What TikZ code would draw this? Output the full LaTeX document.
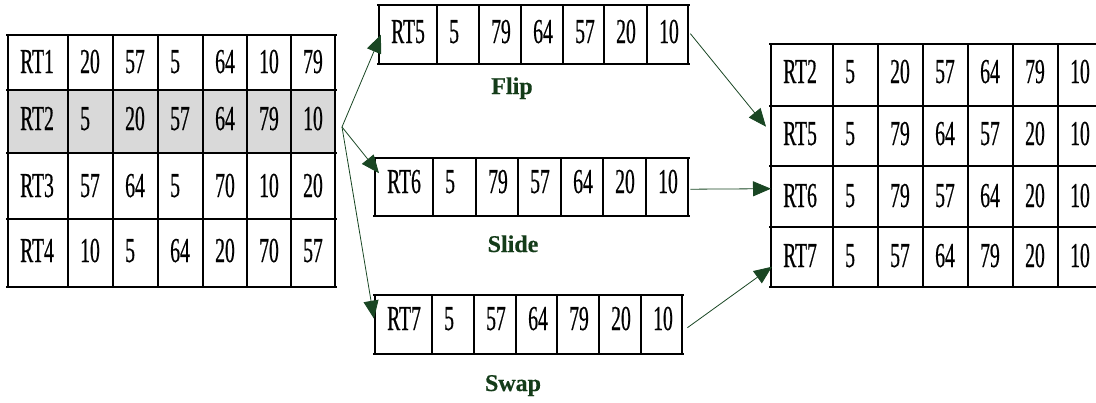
\documentclass[tikz,border=0pt]{standalone}
\usepackage{fontspec}
\setmainfont{Liberation Serif}
\newfontfamily\cellfont{Liberation Serif}[FakeStretch=0.56,FakeBold=0.5]
\newfontfamily\lblfont{Liberation Serif Bold}[FakeBold=0.4]
\usetikzlibrary{arrows.meta}
\definecolor{arr}{RGB}{25,70,35}
\definecolor{lab}{RGB}{20,60,25}
\definecolor{graybg}{RGB}{217,217,217}
\newcommand\cellrow[4]{%
  \foreach \t [count=\i] in {#3} {%
    \pgfmathsetmacro\cx{{#1}[\i-1]+12}%
    \node[celltxt] (#4-\i) at (\cx,#2) {\t};
  }}
\begin{document}
\begin{tikzpicture}[x=1pt,y=-1pt,
  vline/.style={line width=1.4pt,black},
  hline/.style={line width=2pt,black},
  celltxt/.style={anchor=base west,inner sep=0pt,font=\cellfont\fontsize{35}{38}\selectfont},
  lbl/.style={anchor=base,inner sep=0pt,text=lab,font=\lblfont\fontsize{24}{26}\selectfont},
  conn/.style={draw=arr,line width=0.8pt,-{Triangle[length=18pt,width=15pt]}},
  frame/.style={anchor=north west,inner sep=0pt,draw=none,minimum width=#1},
  ]
\useasboundingbox (0,0) rectangle (1096,402);
\clip (0,0) rectangle (1096,402);

% ---------- left table ----------
\fill[graybg] (8,90) rectangle (335,153);
\node[frame=327pt,minimum height=252pt] (L) at (8,35) {};
\foreach \x in {8,68,113,158,203,247,291,335} \draw[vline] (\x,35) -- (\x,287);
\foreach \y in {35,90,153,219,287} \draw[hline] (6,\y) -- (337,\y);
\cellrow{8,68,113,158,203,247,291}{73}{RT1,20,57,5,64,10,79}{l1}
\cellrow{8,68,113,158,203,247,291}{130}{RT2,5,20,57,64,79,10}{l2}
\cellrow{8,68,113,158,203,247,291}{197}{RT3,57,64,5,70,10,20}{l3}
\cellrow{8,68,113,158,203,247,291}{262}{RT4,10,5,64,20,70,57}{l4}

% ---------- middle tables ----------
\node[frame=309pt,minimum height=59pt] (t5) at (379,5) {};
\foreach \x in {379,437,479,521,563,604,647,688} \draw[vline] (\x,5) -- (\x,64);
\foreach \y in {5,64} \draw[hline] (377,\y) -- (690,\y);
\cellrow{379,437,479,521,563,604,647}{43}{RT5,5,79,64,57,20,10}{m5}
\node[lbl] (flip) at (512,94) {Flip};

\node[frame=313pt,minimum height=58pt] (t6) at (375,158) {};
\foreach \x in {375,433,476,518,561,603,646,688} \draw[vline] (\x,158) -- (\x,216);
\foreach \y in {158,216} \draw[hline] (373,\y) -- (690,\y);
\cellrow{375,433,476,518,561,603,646}{193}{RT6,5,79,57,64,20,10}{m6}
\node[lbl] (slide) at (513,252) {Slide};

\node[frame=307pt,minimum height=59pt] (t7) at (375,295) {};
\foreach \x in {375,432,474,516,557,599,641,682} \draw[vline] (\x,295) -- (\x,354);
\foreach \y in {295,354} \draw[hline] (373,\y) -- (684,\y);
\cellrow{375,432,474,516,557,599,641}{330}{RT7,5,57,64,79,20,10}{m7}
\node[lbl] (swap) at (513,391) {Swap};

% ---------- right table ----------
\node[frame=332pt,minimum height=243pt] (R) at (771,44) {};
\foreach \x in {771,833,878,923,968,1013,1058,1103} \draw[vline] (\x,44) -- (\x,287);
\foreach \y in {44,106,166,227,287} \draw[hline] (769,\y) -- (1105,\y);
\cellrow{771,833,878,923,968,1013,1058}{83}{RT2,5,20,57,64,79,10}{r2}
\cellrow{771,833,878,923,968,1013,1058}{145}{RT5,5,79,64,57,20,10}{r5}
\cellrow{771,833,878,923,968,1013,1058}{207}{RT6,5,79,57,64,20,10}{r6}
\cellrow{771,833,878,923,968,1013,1058}{267}{RT7,5,57,64,79,20,10}{r7}

% ---------- connectors ----------
\coordinate (src) at (342,127);
\draw[conn] (src) -- ([xshift=2pt]t5.west);
\draw[conn] (src) -- ([xshift=4pt,yshift=14pt]t6.west);
\draw[conn] (src) -- ([xshift=-1pt,yshift=6pt]t7.west);
\draw[conn] ([xshift=2pt,yshift=1pt]t5.east) -- ([xshift=-5pt,yshift=39pt]R.west);
\draw[conn] ([xshift=2pt,yshift=-2pt]t6.east) -- ([yshift=-23pt]R.west);
\draw[conn] ([xshift=5pt,yshift=-3pt]t7.east) -- ([xshift=1pt,yshift=-101pt]R.west);
\end{tikzpicture}
\end{document}
